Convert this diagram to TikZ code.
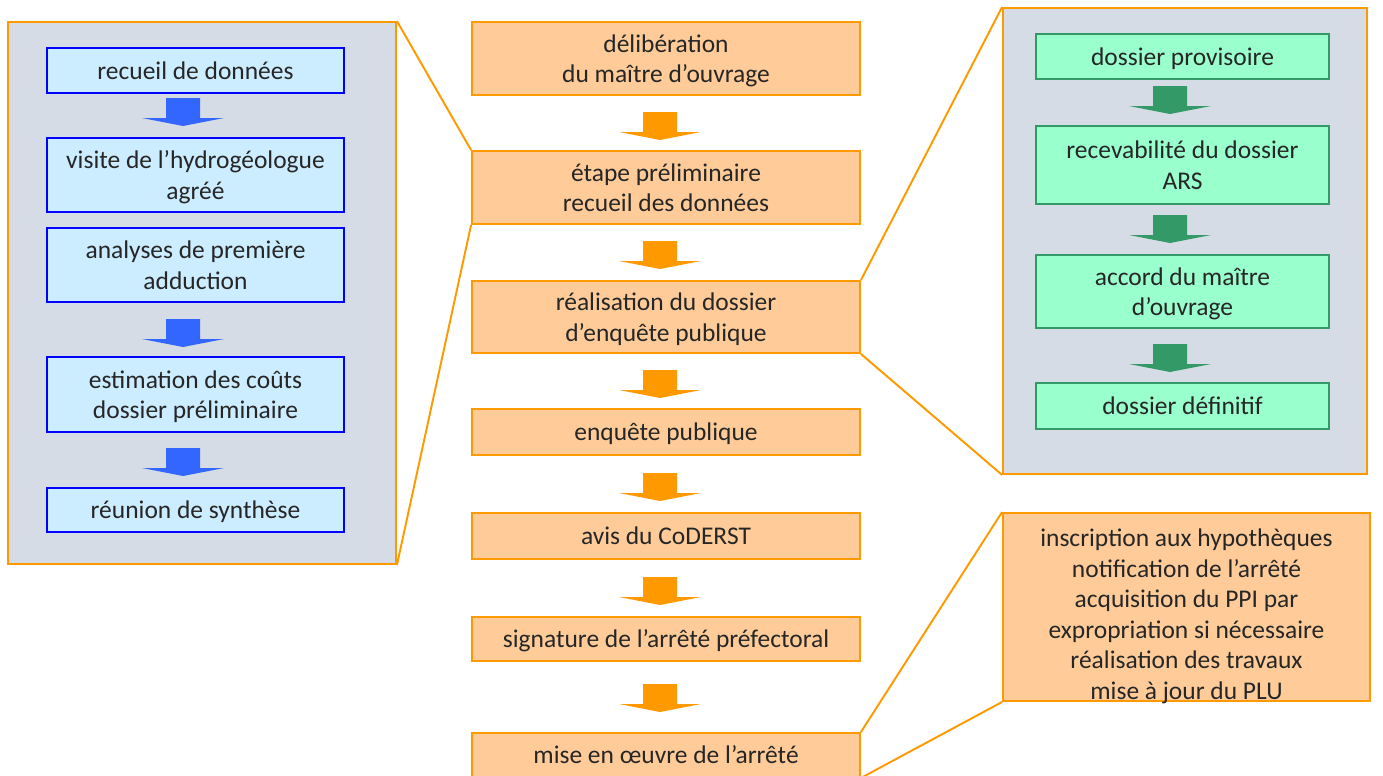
\documentclass[tikz,border=0pt]{standalone}
\usepackage{fontspec}
\setmainfont{Carlito}
\definecolor{txtgray}{HTML}{262626}
\definecolor{panelgray}{HTML}{D6DCE5}
\definecolor{ppOrange}{HTML}{FF9900}
\definecolor{ppPeach}{HTML}{FFCC99}
\definecolor{ppBlue}{HTML}{0000FF}
\definecolor{ppSky}{HTML}{CCECFF}
\definecolor{ppArrowBlue}{HTML}{3366FF}
\definecolor{ppMint}{HTML}{99FFCC}
\definecolor{ppGreen}{HTML}{339966}
\tikzset{
  stepbox/.style={rectangle,draw=ppOrange,fill=ppPeach,line width=1.1pt,minimum width=7.76cm,align=center,text=txtgray,inner sep=0pt,text depth=0pt},
  subbox/.style={rectangle,draw=ppBlue,fill=ppSky,line width=1.4pt,minimum width=5.94cm,align=center,text=txtgray,inner sep=0pt,text depth=0pt},
  dosbox/.style={rectangle,draw=ppGreen,fill=ppMint,line width=1.1pt,minimum width=5.86cm,align=center,text=txtgray,inner sep=0pt,text depth=0pt},
  panel/.style={rectangle,draw=ppOrange,fill=panelgray,line width=1.1pt,inner sep=0pt},
  zoomline/.style={draw=ppOrange,line width=1.1pt},
  flowarrow/.pic={\fill[#1] (-17,0) -- (17,0) -- (17,20) -- (41,20) -- (0,28) -- (-41,20) -- (-17,20) -- cycle;}
}
\begin{document}
\begin{tikzpicture}[x=0.02cm,y=-0.02cm,font=\fontsize{14.5pt}{17.4pt}\selectfont]
\useasboundingbox (0,0) rectangle (1383,775);

\node[panel,minimum width=7.76cm,minimum height=10.84cm] (left) at (202,293) {};
\node[panel,minimum width=7.28cm,minimum height=9.32cm] (right) at (1185,241) {};

\node[subbox,minimum height=0.9cm] (recueil) at (195.5,70.5) {recueil de données};
\node[subbox,minimum height=1.48cm] (visite) at (195.5,175) {visite de l’hydrogéologue\\agréé};
\node[subbox,minimum height=1.48cm] (analyses) at (195.5,265) {analyses de première\\adduction};
\node[subbox,minimum height=1.5cm] (couts) at (195.5,394.5) {estimation des coûts\\dossier préliminaire};
\node[subbox,minimum height=0.88cm] (reunion) at (195.5,510) {réunion de synthèse};
\pic at (183,98) {flowarrow=ppArrowBlue};
\pic at (183,319) {flowarrow=ppArrowBlue};
\pic at (183,448) {flowarrow=ppArrowBlue};

\node[stepbox,minimum height=1.46cm] (delib) at (666,58.5) {délibération\\du maître d’ouvrage};
\node[stepbox,minimum height=1.46cm] (etape) at (666,187.5) {étape préliminaire\\recueil des données};
\node[stepbox,minimum height=1.44cm] (dossier) at (666,317) {réalisation du dossier\\d’enquête publique};
\node[stepbox,minimum height=0.92cm] (enquete) at (666,432) {enquête publique};
\node[stepbox,minimum height=0.92cm] (avis) at (666,536) {avis du CoDERST};
\node[stepbox,minimum height=0.88cm] (signature) at (666,639) {signature de l’arrêté préfectoral};
\node[stepbox,minimum height=0.88cm] (oeuvre) at (666,755) {mise en œuvre de l’arrêté};
\pic at (660,112) {flowarrow=ppOrange};
\pic at (660,241) {flowarrow=ppOrange};
\pic at (660,370) {flowarrow=ppOrange};
\pic at (660,473) {flowarrow=ppOrange};
\pic at (660,577) {flowarrow=ppOrange};
\pic at (660,684) {flowarrow=ppOrange};

\node[dosbox,minimum height=0.9cm] (provisoire) at (1182.5,56.5) {dossier provisoire};
\node[dosbox,minimum height=1.56cm] (recevable) at (1182.5,165) {recevabilité du dossier\\ARS};
\node[dosbox,minimum height=1.46cm] (accord) at (1182.5,291.5) {accord du maître\\d’ouvrage};
\node[dosbox,minimum height=0.92cm] (definitif) at (1182.5,406) {dossier définitif};
\pic at (1170,86) {flowarrow=ppGreen};
\pic at (1170,215) {flowarrow=ppGreen};
\pic at (1170,344) {flowarrow=ppGreen};

\node[stepbox,minimum width=7.34cm,minimum height=3.76cm] (suite) at (1186.5,607) {};
\node[align=center,text=txtgray,inner sep=0pt,text depth=0pt] (suitetext) at (1186.5,614) {inscription aux hypothèques\\notification de l’arrêté\\acquisition du PPI par\\expropriation si nécessaire\\réalisation des travaux\\mise à jour du PLU};

\draw[zoomline] (left.north east) -- (etape.north west);
\draw[zoomline] (left.south east) -- (etape.south west);
\draw[zoomline] (right.north west) -- (dossier.north east);
\draw[zoomline] (right.south west) -- (dossier.south east);
\draw[zoomline] (suite.north west) -- (oeuvre.north east);
\draw[zoomline] (suite.south west) -- (oeuvre.south east);

\end{tikzpicture}
\end{document}
